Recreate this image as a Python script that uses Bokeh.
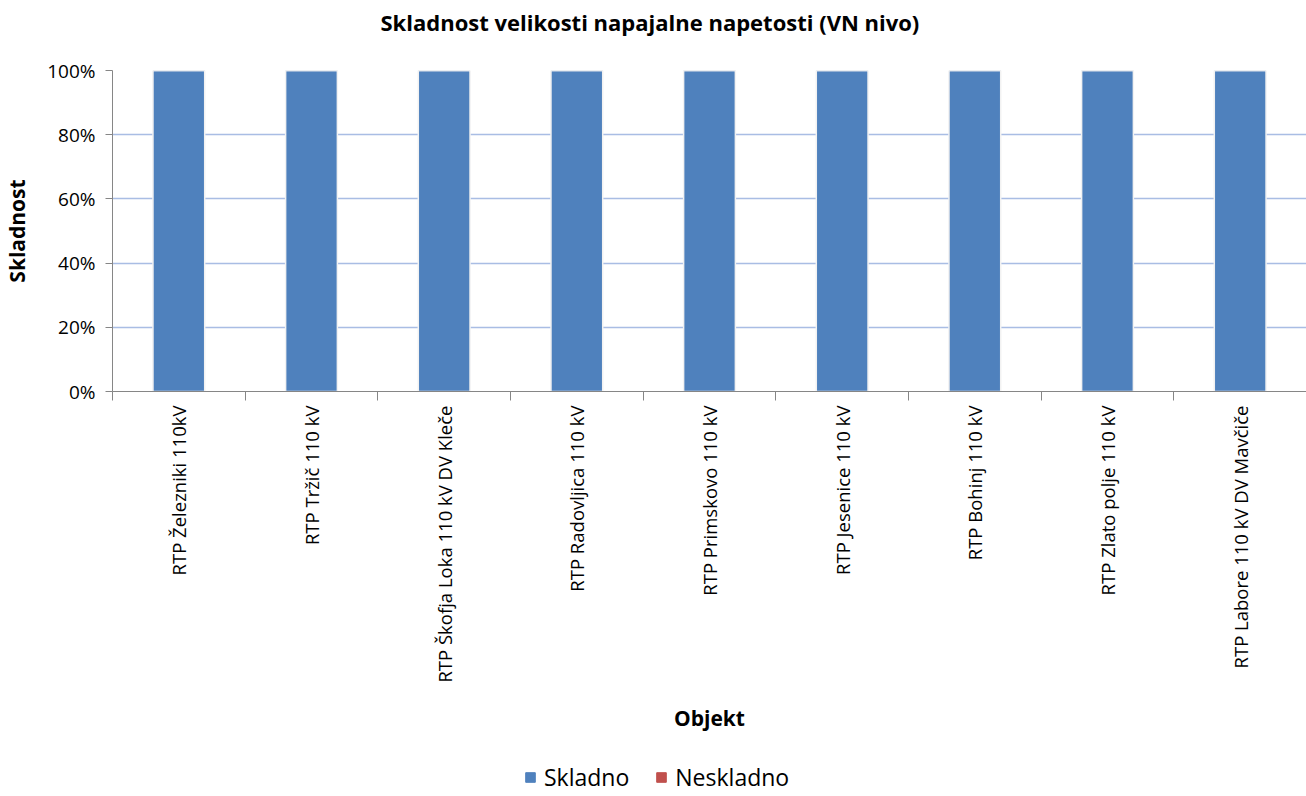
from bokeh.plotting import figure
from bokeh.layouts import column
from bokeh.models import (ColumnDataSource, Range1d, FixedTicker, NumeralTickFormatter,
                          Legend, LegendItem, Title)
from bokeh.embed import file_html
from bokeh.resources import INLINE
import math

categories = ["RTP Železniki 110kV", "RTP Tržič 110 kV", "RTP Škofja Loka 110 kV DV Kleče",
              "RTP Radovljica 110 kV", "RTP Primskovo 110 kV", "RTP Jesenice 110 kV",
              "RTP Bohinj 110 kV", "RTP Zlato polje 110 kV", "RTP Labore 110 kV DV Mavčiče"]
skladno = [1.0, 1.0, 1.0, 1.0, 1.0, 1.0, 1.0, 1.0, 1.0]
neskladno = [0.0, 0.0, 0.0, 0.0, 0.0, 0.0, 0.0, 0.0, 0.0]
series_names = ["Skladno", "Neskladno"]
colors = ["#4f81bd", "#c0504d"]
y_ticks = [0, 0.2, 0.4, 0.6, 0.8, 1.0]

FONT = "Open Sans"

xs = [i + 0.5 for i in range(len(categories))]
source = ColumnDataSource(dict(x=xs, Skladno=skladno, Neskladno=neskladno))

p = figure(width=1306, height=760, output_backend="svg", toolbar_location=None,
           x_range=Range1d(0, len(categories)), y_range=Range1d(0, 1),
           min_border_left=112, min_border_right=0, min_border_top=70,
           min_border_bottom=369)
p.outline_line_color = None

# spacer between frame and title, then the title
p.add_layout(Title(text=" ", text_font_size="1px", standoff=31), "above")
p.add_layout(Title(text="Skladnost velikosti napajalne napetosti (VN nivo)",
                   text_font=FONT, text_font_size="22px", text_font_style="bold",
                   text_color="#000000", align="left", offset=268, standoff=0), "above")

renderers = p.vbar_stack(series_names, x="x", width=0.39, source=source, color=colors,
                         line_color="#f2f2f2", line_width=1.5)

# y axis
p.yaxis.ticker = FixedTicker(ticks=y_ticks)
p.yaxis.formatter = NumeralTickFormatter(format="0%")
p.yaxis.axis_label = "Skladnost"
p.yaxis.axis_label_text_font = FONT
p.yaxis.axis_label_text_font_size = "21px"
p.yaxis.axis_label_text_font_style = "bold"
p.yaxis.axis_label_text_color = "#000000"
p.yaxis.axis_label_standoff = 13
p.yaxis.major_label_text_font = FONT
p.yaxis.major_label_text_font_size = "19px"
p.yaxis.major_label_text_color = "#000000"
p.yaxis.axis_line_color = "#868686"
p.yaxis.major_tick_line_color = "#868686"
p.yaxis.major_tick_out = 7
p.yaxis.major_tick_in = 0
p.yaxis.minor_tick_line_color = None
p.yaxis.major_label_standoff = 10

# x axis: labels at category centres, ticks at boundaries
p.xaxis.ticker = FixedTicker(ticks=xs, minor_ticks=list(range(len(categories) + 1)))
p.xaxis.major_label_overrides = {x: c for x, c in zip(xs, categories)}
p.xaxis.major_label_orientation = math.pi / 2
p.xaxis.major_label_text_font = FONT
p.xaxis.major_label_text_font_size = "18.5px"
p.xaxis.major_label_text_color = "#000000"
p.xaxis.major_label_standoff = 5
p.xaxis.major_tick_line_color = None
p.xaxis.minor_tick_line_color = "#868686"
p.xaxis.minor_tick_out = 9
p.xaxis.minor_tick_in = 0
p.xaxis.axis_line_color = "#868686"
p.xaxis.axis_label = "Objekt"
p.xaxis.axis_label_text_font = FONT
p.xaxis.axis_label_text_font_size = "21px"
p.xaxis.axis_label_text_font_style = "bold"
p.xaxis.axis_label_text_color = "#000000"
p.xaxis.axis_label_standoff = 18

p.xgrid.visible = False
p.ygrid.ticker = FixedTicker(ticks=y_ticks)
p.ygrid.grid_line_color = "#a9bde4"
p.ygrid.grid_line_width = 1.5

# legend strip underneath (same series, bars kept out of its view)
lg = figure(width=1306, height=36, output_backend="svg", toolbar_location=None,
            x_range=Range1d(0, len(categories)), y_range=Range1d(5, 6),
            x_axis_location=None, y_axis_location=None,
            min_border_left=0, min_border_right=0, min_border_top=0, min_border_bottom=0)
lg.outline_line_color = None
lg.xgrid.visible = False
lg.ygrid.visible = False
lg_renderers = lg.vbar_stack(series_names, x="x", width=0.39, source=source, color=colors)
legend = Legend(items=[LegendItem(label=n, renderers=[r]) for n, r in zip(series_names, lg_renderers)],
                orientation="horizontal", location=(412, 3), border_line_color=None,
                background_fill_alpha=0,
                label_text_font=FONT, label_text_font_size="23px", label_text_color="#000000",
                glyph_width=12, glyph_height=12, spacing=26, margin=0, padding=0,
                label_standoff=8)
lg.add_layout(legend, "center")

layout = column(p, lg, spacing=0)
open("out.html", "w").write(file_html(layout, INLINE))
